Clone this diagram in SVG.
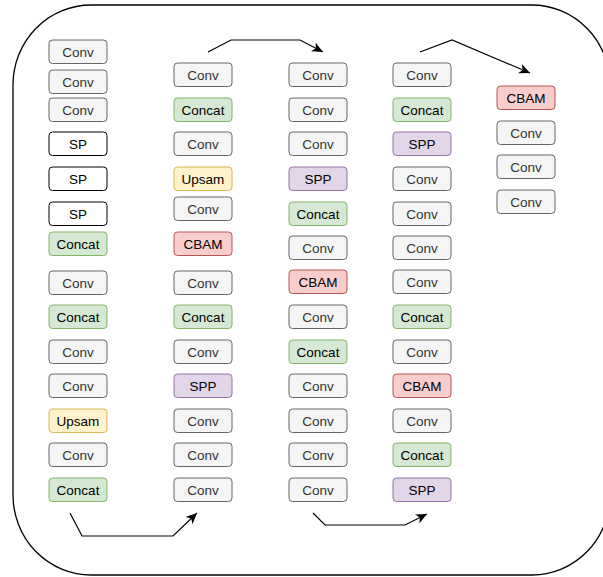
<svg xmlns="http://www.w3.org/2000/svg" width="603" height="577" viewBox="0 0 603 577">
<style>
.b{stroke-width:1}
.g{fill:#f5f5f5;stroke:#666666}
.gr{fill:#d5e8d4;stroke:#82b366}
.y{fill:#fff2cc;stroke:#d6b656}
.r{fill:#f8cecc;stroke:#b85450}
.p{fill:#e1d5e7;stroke:#9673a6}
.w{fill:#ffffff;stroke:#000000}
text{font-family:"Liberation Sans",Arial,sans-serif;font-size:13.5px;text-anchor:middle}
.tg{fill:#333333}
.tk{fill:#000000}
.c{fill:none;stroke:#000000;stroke-width:1.2}
</style>
<defs>
<marker id="ah" markerWidth="12" markerHeight="10" refX="11" refY="5" orient="auto" markerUnits="userSpaceOnUse">
<path d="M0,0 L11,5 L0,10 L3,5 Z" fill="#000000"/>
</marker>
<symbol id="n" overflow="visible"></symbol>
</defs>
<rect x="13" y="5" width="597" height="570" rx="78" ry="80" fill="#ffffff" stroke="#000000" stroke-width="1.3"/>
<g id="connectors">
<path class="c" d="M208,52 L231,40 L300,40 L323,52" marker-end="url(#ah)"/>
<path class="c" d="M420,52 L452,40 L530,73" marker-end="url(#ah)"/>
<path class="c" d="M70,513 L82,536 L173,536 L197,513" marker-end="url(#ah)"/>
<path class="c" d="M313,513 L325,525 L405,525 L427,514" marker-end="url(#ah)"/>
</g>
<g id="col1">
<g id="c1n1"><rect class="g" x="49" y="40" width="58" height="23.5" rx="3.5"/><text class="tg" x="78" y="56.5">Conv</text></g>
<g id="c1n2"><rect class="g" x="49" y="70" width="58" height="23.5" rx="3.5"/><text class="tg" x="78" y="86.5">Conv</text></g>
<g id="c1n3"><rect class="g" x="49" y="98" width="58" height="23.5" rx="3.5"/><text class="tg" x="78" y="114.5">Conv</text></g>
<g id="c1n4"><rect class="w" x="49" y="132" width="58" height="23.5" rx="3.5"/><text class="tk" x="78" y="148.5">SP</text></g>
<g id="c1n5"><rect class="w" x="49" y="167" width="58" height="23.5" rx="3.5"/><text class="tk" x="78" y="183.5">SP</text></g>
<g id="c1n6"><rect class="w" x="49" y="202" width="58" height="23.5" rx="3.5"/><text class="tk" x="78" y="218.5">SP</text></g>
<g id="c1n7"><rect class="gr" x="49" y="232" width="58" height="23.5" rx="3.5"/><text class="tk" x="78" y="248.5">Concat</text></g>
<g id="c1n8"><rect class="g" x="49" y="271" width="58" height="23.5" rx="3.5"/><text class="tg" x="78" y="287.5">Conv</text></g>
<g id="c1n9"><rect class="gr" x="49" y="305" width="58" height="23.5" rx="3.5"/><text class="tk" x="78" y="321.5">Concat</text></g>
<g id="c1n10"><rect class="g" x="49" y="340" width="58" height="23.5" rx="3.5"/><text class="tg" x="78" y="356.5">Conv</text></g>
<g id="c1n11"><rect class="g" x="49" y="374" width="58" height="23.5" rx="3.5"/><text class="tg" x="78" y="390.5">Conv</text></g>
<g id="c1n12"><rect class="y" x="49" y="409" width="58" height="23.5" rx="3.5"/><text class="tk" x="78" y="425.5">Upsam</text></g>
<g id="c1n13"><rect class="g" x="49" y="443" width="58" height="23.5" rx="3.5"/><text class="tg" x="78" y="459.5">Conv</text></g>
<g id="c1n14"><rect class="gr" x="49" y="478" width="58" height="23.5" rx="3.5"/><text class="tk" x="78" y="494.5">Concat</text></g>
</g>
<g id="col2">
<g id="c2n1"><rect class="g" x="174" y="63" width="58" height="23.5" rx="3.5"/><text class="tg" x="203" y="79.5">Conv</text></g>
<g id="c2n2"><rect class="gr" x="174" y="98" width="58" height="23.5" rx="3.5"/><text class="tk" x="203" y="114.5">Concat</text></g>
<g id="c2n3"><rect class="g" x="174" y="132" width="58" height="23.5" rx="3.5"/><text class="tg" x="203" y="148.5">Conv</text></g>
<g id="c2n4"><rect class="y" x="174" y="167" width="58" height="23.5" rx="3.5"/><text class="tk" x="203" y="183.5">Upsam</text></g>
<g id="c2n5"><rect class="g" x="174" y="197" width="58" height="23.5" rx="3.5"/><text class="tg" x="203" y="213.5">Conv</text></g>
<g id="c2n6"><rect class="r" x="174" y="232" width="58" height="23.5" rx="3.5"/><text class="tk" x="203" y="248.5">CBAM</text></g>
<g id="c2n7"><rect class="g" x="174" y="271" width="58" height="23.5" rx="3.5"/><text class="tg" x="203" y="287.5">Conv</text></g>
<g id="c2n8"><rect class="gr" x="174" y="305" width="58" height="23.5" rx="3.5"/><text class="tk" x="203" y="321.5">Concat</text></g>
<g id="c2n9"><rect class="g" x="174" y="340" width="58" height="23.5" rx="3.5"/><text class="tg" x="203" y="356.5">Conv</text></g>
<g id="c2n10"><rect class="p" x="174" y="374" width="58" height="23.5" rx="3.5"/><text class="tk" x="203" y="390.5">SPP</text></g>
<g id="c2n11"><rect class="g" x="174" y="409" width="58" height="23.5" rx="3.5"/><text class="tg" x="203" y="425.5">Conv</text></g>
<g id="c2n12"><rect class="g" x="174" y="443" width="58" height="23.5" rx="3.5"/><text class="tg" x="203" y="459.5">Conv</text></g>
<g id="c2n13"><rect class="g" x="174" y="478" width="58" height="23.5" rx="3.5"/><text class="tg" x="203" y="494.5">Conv</text></g>
</g>
<g id="col3">
<g id="c3n1"><rect class="g" x="289" y="63" width="58" height="23.5" rx="3.5"/><text class="tg" x="318" y="79.5">Conv</text></g>
<g id="c3n2"><rect class="g" x="289" y="98" width="58" height="23.5" rx="3.5"/><text class="tg" x="318" y="114.5">Conv</text></g>
<g id="c3n3"><rect class="g" x="289" y="132" width="58" height="23.5" rx="3.5"/><text class="tg" x="318" y="148.5">Conv</text></g>
<g id="c3n4"><rect class="p" x="289" y="167" width="58" height="23.5" rx="3.5"/><text class="tk" x="318" y="183.5">SPP</text></g>
<g id="c3n5"><rect class="gr" x="289" y="202" width="58" height="23.5" rx="3.5"/><text class="tk" x="318" y="218.5">Concat</text></g>
<g id="c3n6"><rect class="g" x="289" y="236" width="58" height="23.5" rx="3.5"/><text class="tg" x="318" y="252.5">Conv</text></g>
<g id="c3n7"><rect class="r" x="289" y="270" width="58" height="23.5" rx="3.5"/><text class="tk" x="318" y="286.5">CBAM</text></g>
<g id="c3n8"><rect class="g" x="289" y="305" width="58" height="23.5" rx="3.5"/><text class="tg" x="318" y="321.5">Conv</text></g>
<g id="c3n9"><rect class="gr" x="289" y="340" width="58" height="23.5" rx="3.5"/><text class="tk" x="318" y="356.5">Concat</text></g>
<g id="c3n10"><rect class="g" x="289" y="374" width="58" height="23.5" rx="3.5"/><text class="tg" x="318" y="390.5">Conv</text></g>
<g id="c3n11"><rect class="g" x="289" y="409" width="58" height="23.5" rx="3.5"/><text class="tg" x="318" y="425.5">Conv</text></g>
<g id="c3n12"><rect class="g" x="289" y="443" width="58" height="23.5" rx="3.5"/><text class="tg" x="318" y="459.5">Conv</text></g>
<g id="c3n13"><rect class="g" x="289" y="478" width="58" height="23.5" rx="3.5"/><text class="tg" x="318" y="494.5">Conv</text></g>
</g>
<g id="col4">
<g id="c4n1"><rect class="g" x="393" y="63" width="58" height="23.5" rx="3.5"/><text class="tg" x="422" y="79.5">Conv</text></g>
<g id="c4n2"><rect class="gr" x="393" y="98" width="58" height="23.5" rx="3.5"/><text class="tk" x="422" y="114.5">Concat</text></g>
<g id="c4n3"><rect class="p" x="393" y="132" width="58" height="23.5" rx="3.5"/><text class="tk" x="422" y="148.5">SPP</text></g>
<g id="c4n4"><rect class="g" x="393" y="167" width="58" height="23.5" rx="3.5"/><text class="tg" x="422" y="183.5">Conv</text></g>
<g id="c4n5"><rect class="g" x="393" y="202" width="58" height="23.5" rx="3.5"/><text class="tg" x="422" y="218.5">Conv</text></g>
<g id="c4n6"><rect class="g" x="393" y="236" width="58" height="23.5" rx="3.5"/><text class="tg" x="422" y="252.5">Conv</text></g>
<g id="c4n7"><rect class="g" x="393" y="270" width="58" height="23.5" rx="3.5"/><text class="tg" x="422" y="286.5">Conv</text></g>
<g id="c4n8"><rect class="gr" x="393" y="305" width="58" height="23.5" rx="3.5"/><text class="tk" x="422" y="321.5">Concat</text></g>
<g id="c4n9"><rect class="g" x="393" y="340" width="58" height="23.5" rx="3.5"/><text class="tg" x="422" y="356.5">Conv</text></g>
<g id="c4n10"><rect class="r" x="393" y="374" width="58" height="23.5" rx="3.5"/><text class="tk" x="422" y="390.5">CBAM</text></g>
<g id="c4n11"><rect class="g" x="393" y="409" width="58" height="23.5" rx="3.5"/><text class="tg" x="422" y="425.5">Conv</text></g>
<g id="c4n12"><rect class="gr" x="393" y="443" width="58" height="23.5" rx="3.5"/><text class="tk" x="422" y="459.5">Concat</text></g>
<g id="c4n13"><rect class="p" x="393" y="478" width="58" height="23.5" rx="3.5"/><text class="tk" x="422" y="494.5">SPP</text></g>
</g>
<g id="col5">
<g id="c5n1"><rect class="r" x="497" y="86" width="58" height="23.5" rx="3.5"/><text class="tk" x="526" y="102.5">CBAM</text></g>
<g id="c5n2"><rect class="g" x="497" y="121" width="58" height="23.5" rx="3.5"/><text class="tg" x="526" y="137.5">Conv</text></g>
<g id="c5n3"><rect class="g" x="497" y="155" width="58" height="23.5" rx="3.5"/><text class="tg" x="526" y="171.5">Conv</text></g>
<g id="c5n4"><rect class="g" x="497" y="190" width="58" height="23.5" rx="3.5"/><text class="tg" x="526" y="206.5">Conv</text></g>
</g>
</svg>
